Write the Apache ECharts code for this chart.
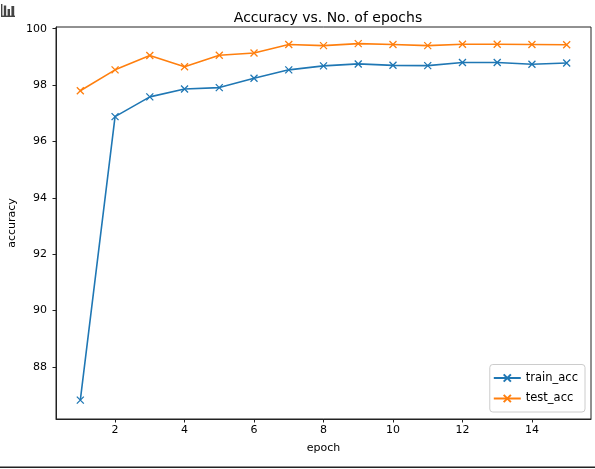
<!DOCTYPE html>
<html>
<head>
<meta charset="utf-8">
<script src="https://cdn.jsdelivr.net/npm/echarts@6/dist/echarts.min.js"></script>
<style>
  html, body { margin: 0; padding: 0; background: #fff; }
  #chart { width: 595px; height: 469px; }
</style>
</head>
<body>
<div id="chart"></div>
<script>
// 准确率曲线：train / test 随 epoch 变化

const epochs = [1, 2, 3, 4, 5, 6, 7, 8, 9, 10, 11, 12, 13, 14, 15];
const trainAcc = [86.82, 96.88, 97.58, 97.86, 97.91, 98.24, 98.54, 98.68, 98.75, 98.70, 98.69, 98.80, 98.80, 98.74, 98.78];
const testAcc = [97.80, 98.54, 99.05, 98.65, 99.06, 99.14, 99.44, 99.40, 99.47, 99.44, 99.40, 99.45, 99.45, 99.44, 99.43];
const xTicks = [2, 4, 6, 8, 10, 12, 14];
const yTicks = [88, 90, 92, 94, 96, 98, 100];

const FONT = 'DejaVu Sans';
const X_MARK = 'path://M0,0L10,10M10,0L0,10';

function series(name, values, color) {
  return {
    name,
    type: 'line',
    data: epochs.map((e, i) => [e, values[i]]),
    symbol: X_MARK,
    symbolSize: 7,
    showAllSymbol: true,
    lineStyle: { color, width: 1.6 },
    itemStyle: { color: 'rgba(0,0,0,0)', borderColor: color, borderWidth: 1.3 },
    emphasis: { disabled: true },
    animation: false
  };
}

const chart = echarts.init(document.getElementById('chart'), null, { renderer: 'canvas' });
chart.setOption({
  backgroundColor: '#fff',
  animation: false,
  textStyle: { fontFamily: FONT },
  title: {
    text: 'Accuracy vs. No. of epochs',
    left: 323, top: 6, textAlign: 'center',
    textStyle: { fontFamily: FONT, fontSize: 14, fontWeight: 'normal', color: '#000' }
  },
  grid: {
    left: 56, top: 27, right: 4, bottom: 50,
    outerBoundsMode: 'none', containLabel: false,
    show: true, borderColor: '#222', borderWidth: 1, backgroundColor: '#fff'
  },
  legend: {
    right: 10, bottom: 57, orient: 'vertical',
    itemWidth: 27, itemHeight: 9, itemGap: 8.5,
    padding: [7.5, 7, 7.5, 3],
    borderColor: '#ccc', borderWidth: 1, borderRadius: 3,
    backgroundColor: '#fff',
    textStyle: { fontFamily: FONT, fontSize: 11.5, color: '#000' },
    data: ['train_acc', 'test_acc']
  },
  xAxis: {
    type: 'value', min: 0.3, max: 15.7,
    name: 'epoch', nameLocation: 'middle', nameGap: 24, nameMoveOverlap: false,
    nameTextStyle: { fontFamily: FONT, fontSize: 11, color: '#000' },
    axisLine: { show: true, lineStyle: { color: '#222', width: 1 } },
    axisTick: { show: true, inside: false, length: 3.5, customValues: xTicks, lineStyle: { color: '#222' } },
    axisLabel: { customValues: xTicks, margin: 6, fontSize: 11, color: '#000', fontFamily: FONT },
    splitLine: { show: false }
  },
  yAxis: {
    type: 'value', min: 86.15, max: 100.06,
    name: 'accuracy', nameLocation: 'middle', nameGap: 38, nameRotate: 90, nameMoveOverlap: false,
    nameTextStyle: { fontFamily: FONT, fontSize: 11, color: '#000' },
    axisLine: { show: true, lineStyle: { color: '#222', width: 1 } },
    axisTick: { show: true, inside: false, length: 3.5, customValues: yTicks, lineStyle: { color: '#222' } },
    axisLabel: { customValues: yTicks, margin: 9, fontSize: 11, color: '#000', fontFamily: FONT },
    splitLine: { show: false }
  },
  series: [
    series('train_acc', trainAcc, '#1f77b4'),
    series('test_acc', testAcc, '#ff7f0e')
  ],
  graphic: [
    // 左上角小图标
    { type: 'group', left: 1, top: 4, children: [
      { type: 'rect', shape: { x: 0, y: 0, width: 1.4, height: 13 }, style: { fill: '#444' } },
      { type: 'rect', shape: { x: 0, y: 11.6, width: 14, height: 1.4 }, style: { fill: '#444' } },
      { type: 'rect', shape: { x: 2.8, y: 1.5, width: 2.4, height: 10.5 }, style: { fill: '#444' } },
      { type: 'rect', shape: { x: 6.6, y: 5, width: 2.4, height: 7 }, style: { fill: '#444' } },
      { type: 'rect', shape: { x: 10.4, y: 2, width: 2.8, height: 10 }, style: { fill: '#444' } }
    ] },
    // 底部分隔线
    { type: 'rect', left: 0, top: 466.5, shape: { width: 595, height: 1.6 }, style: { fill: '#222' } }
  ]
});
</script>
</body>
</html>
